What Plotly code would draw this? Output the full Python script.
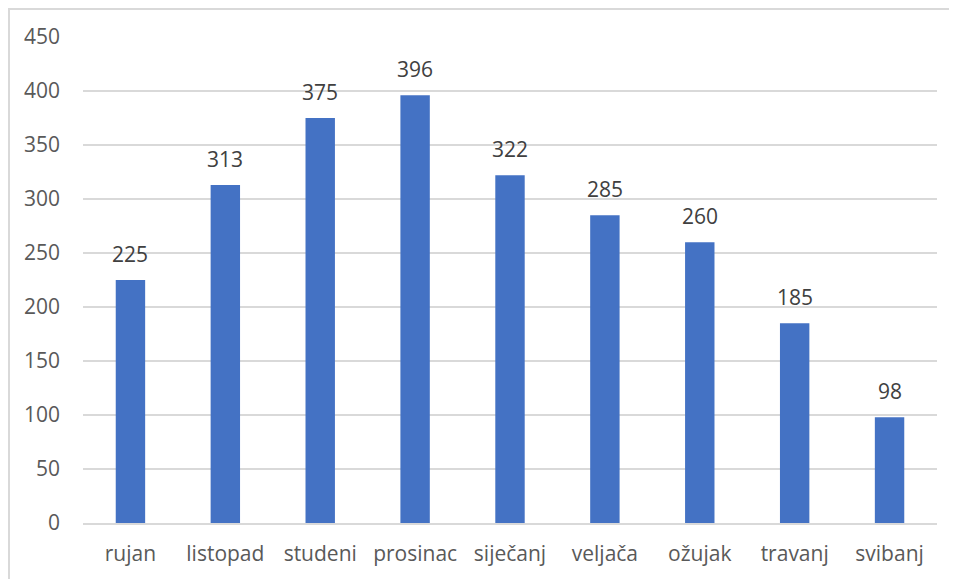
import plotly.graph_objects as go

months = ["rujan", "listopad", "studeni", "prosinac", "siječanj", "veljača", "ožujak", "travanj", "svibanj"]
values = [225, 313, 375, 396, 322, 285, 260, 185, 98]
y_ticks = [0, 50, 100, 150, 200, 250, 300, 350, 400, 450]

# page has an 8px body margin, so the figure is drawn from (8, 8)
W, H = 949, 571
L, R, T, B = 75, 20, 29, 56
pw, ph = W - L - R, H - T - B

font = "Open Sans"
fs = 21
fig = go.Figure(go.Bar(x=months, y=values, marker=dict(color="#4472C4", line=dict(width=0)),
                       hoverinfo="x+y"))

for m, v in zip(months, values):
    fig.add_annotation(x=m, y=v, text=str(v), showarrow=False, yanchor="bottom",
                       yshift=10, font=dict(family=font, size=fs, color="#404040"))

# outer chart border (top and left visible)
xl = (1 - L) / pw
yt = (H - B - 1) / ph
fig.add_shape(type="path", xref="paper", yref="paper",
              path=f"M {xl} -0.2 L {xl} {yt} L 1.1 {yt}",
              line=dict(color="#d9d9d9", width=2))

fig.update_layout(
    width=W, height=H,
    margin=dict(l=L, r=R, t=T, b=B),
    paper_bgcolor="white", plot_bgcolor="white",
    bargap=0.69, showlegend=False,
    font=dict(family=font, size=fs, color="#595959"),
    xaxis=dict(showgrid=False, showline=True, linecolor="#d9d9d9", linewidth=1.5,
               ticks="", ticklabelstandoff=11, tickfont=dict(size=fs, color="#595959")),
    yaxis=dict(range=[0, 450], tickvals=y_ticks, showgrid=True, gridcolor="#d9d9d9",
               gridwidth=1.5, zeroline=False, showline=False, ticks="",
               ticklabelstandoff=22, tickfont=dict(size=fs, color="#595959")),
)

fig.write_html("out.html")
